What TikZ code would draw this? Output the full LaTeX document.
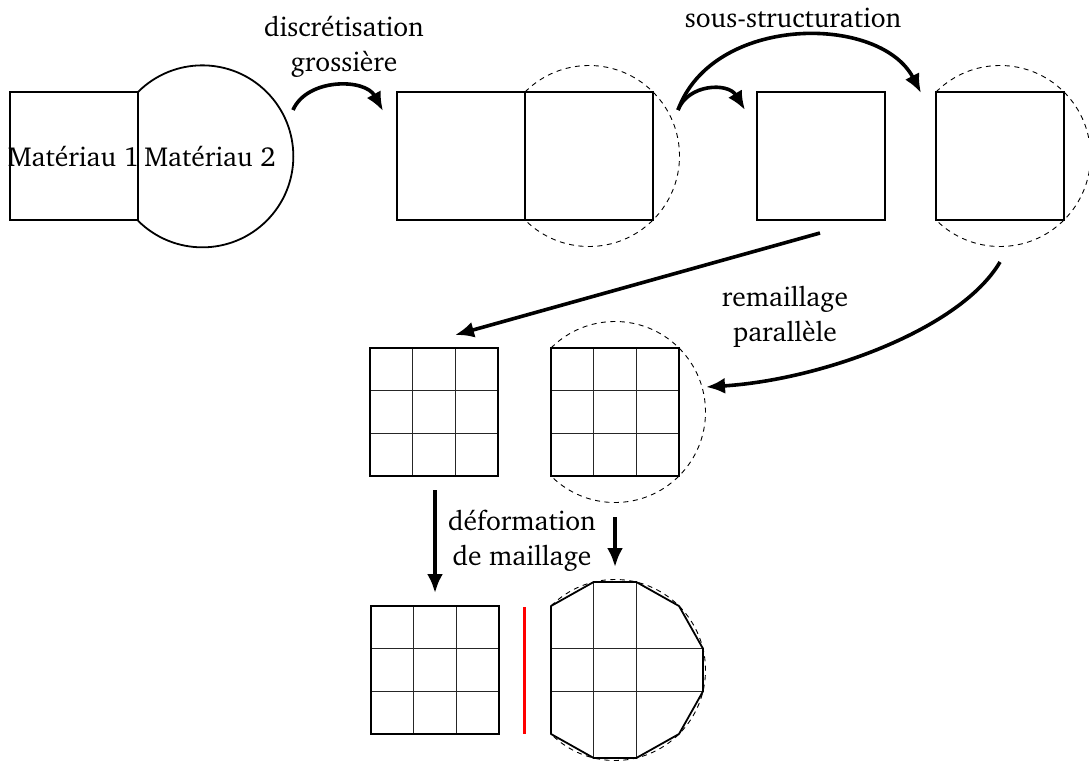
\documentclass[tikz,border=0pt]{standalone}
\usepackage[T1]{fontenc}
\usepackage{charter}
\usetikzlibrary{arrows.meta}
\begin{document}
\begin{tikzpicture}[x=1pt,y=-1pt,
  box/.style={line width=1.8pt},
  gridline/.style={line width=0.9pt, black!85},
  ghost/.style={line width=0.9pt, dash pattern=on 5pt off 4.5pt},
  flow/.style={line width=3.6pt, -{Latex[length=19pt,width=16pt]}},
  lbl/.style={font=\fontsize{27.5}{35}\selectfont, inner sep=0pt, align=center, anchor=base},
  cut/.style={red, line width=3pt}]
\useasboundingbox (0,0) rectangle (1089,760);
% ---- row 1 ----
\draw[box] (10,92) rectangle (138,220);
\draw[box] (138,92) arc[start angle=-135, end angle=135, radius=91];
\node[lbl] (m1) at (73.5,166) {Mat\'eriau 1};
\node[lbl] (m2) at (210,166) {Mat\'eriau 2};

\draw[box] (397,92) rectangle (525,220);
\draw[box] (525,92) rectangle (653,220);
\draw[ghost] (525,92) arc[start angle=-135, end angle=135, radius=90.51];

\draw[box] (757,92) rectangle (885,220);
\draw[box] (936,92) rectangle (1064,220);
\draw[ghost] (936,92) arc[start angle=-135, end angle=135, radius=90.51];

\node[lbl] (disc) at (344,71) {discr\'etisation\\grossi\`ere};
\node[lbl] (sous) at (793,28) {sous-structuration};
\node[lbl] (rem) at (785,341) {remaillage\\parall\`ele};
\node[lbl] (def) at (522,565) {d\'eformation\\de maillage};

% ---- row 2 ----
\foreach \x/\y [count=\i] in {370/348, 551/348, 371/606} {
  \draw[gridline] (\x+42.67,\y) -- (\x+42.67,\y+128);
  \draw[gridline] (\x+85.33,\y) -- (\x+85.33,\y+128);
  \draw[gridline] (\x,\y+42.67) -- (\x+128,\y+42.67);
  \draw[gridline] (\x,\y+85.33) -- (\x+128,\y+85.33);
  \draw[box] (\x,\y) rectangle (\x+128,\y+128);
}
\draw[ghost] (551,348) arc[start angle=-135, end angle=135, radius=90.51];

% ---- row 3 ----
\draw[cut] (524,607) -- (524,734);
\draw[gridline] (593.7,582) -- (593.7,758);
\draw[gridline] (636.3,582) -- (636.3,758);
\draw[gridline] (551,648.7) -- (703,648.7);
\draw[gridline] (551,691.3) -- (703,691.3);
\draw[ghost] (551,606) arc[start angle=-135, end angle=135, radius=90.51];
\draw[box, line join=round] (551,606) -- (593.7,582) -- (636.3,582) -- (679,606) -- (703,648.7)
  -- (703,691.3) -- (679,734) -- (636.3,758) -- (593.7,758) -- (551,734) -- cycle;

% ---- connectors ----
\coordinate (a1s) at (293,110);
\coordinate (a1e) at (383,111);
\coordinate (a2s) at (678,110);
\coordinate (a2e) at (745,110);
\coordinate (a3e) at (921,93);
\coordinate (a4s) at (820,233);
\coordinate (a4e) at (455,335);
\coordinate (a5s) at (1000,262);
\coordinate (a5e) at (706,387);
\coordinate (a6s) at (435,490);
\coordinate (a6e) at (435,593);
\coordinate (a7s) at (615,517);
\coordinate (a7e) at (615,567);

\draw[flow] (a1s) .. controls (307,78) and (365,78) .. (a1e);
\draw[flow] (a2s) .. controls (688,84) and (728,82) .. (a2e);
\draw[flow] (a2s) .. controls (713,14) and (880,14) .. (a3e);
\draw[flow] (a4s) -- (a4e);
\draw[flow] (a5s) .. controls (960,330) and (820,380) .. (a5e);
\draw[flow] (a6s) -- (a6e);
\draw[flow] (a7s) -- (a7e);
\end{tikzpicture}
\end{document}
